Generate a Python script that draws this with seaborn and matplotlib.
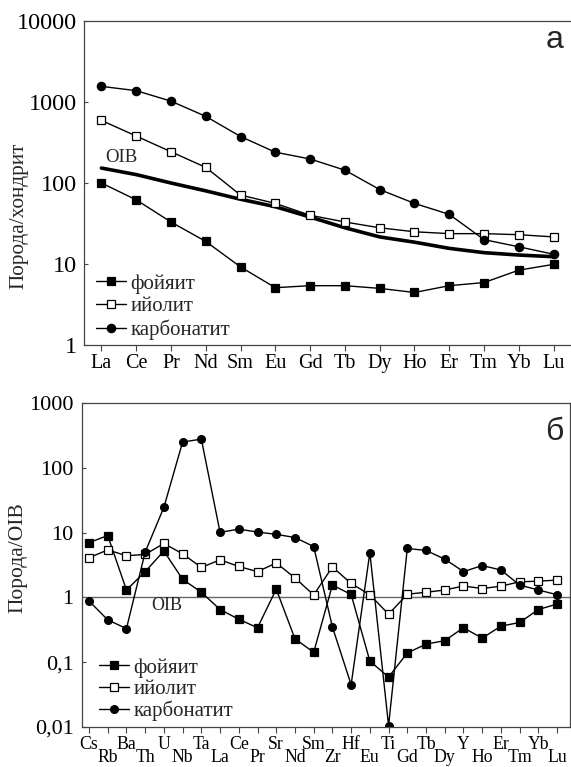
import numpy as np
import pandas as pd
import matplotlib
matplotlib.use("Agg")
import matplotlib.pyplot as plt
import seaborn as sns
from matplotlib.lines import Line2D
from matplotlib.ticker import FixedLocator, NullLocator

# ---------------- data: panel а (chondrite-normalised REE) ----------------
ree = ["La", "Ce", "Pr", "Nd", "Sm", "Eu", "Gd", "Tb", "Dy", "Ho", "Er", "Tm", "Yb", "Lu"]
foyaite_ree = [100, 62, 33, 19, 9.2, 5.1, 5.4, 5.4, 5.0, 4.45, 5.4, 5.9, 8.4, 9.9]
ijolite_ree = [593, 380, 243, 156, 71, 56, 40, 33, 28, 25, 23.7, 23.7, 23, 21.6]
carbonatite_ree = [1560, 1380, 1025, 665, 375, 240, 198, 144, 83, 56, 41, 20, 16.3, 13.2]
oib_ree = [153, 127, 100, 80, 63, 51, 38, 28, 21.6, 18.6, 15.6, 13.8, 12.9, 12.3]

# ---------------- data: panel б (OIB-normalised spidergram) ----------------
elements = ["Cs", "Rb", "Ba", "Th", "U", "Nb", "Ta", "La", "Ce", "Pr", "Sr", "Nd", "Sm",
            "Zr", "Hf", "Eu", "Ti", "Gd", "Tb", "Dy", "Y", "Ho", "Er", "Tm", "Yb", "Lu"]
foyaite_oib = [7.0, 9.0, 1.3, 2.5, 5.2, 1.9, 1.2, 0.65, 0.46, 0.34, 1.34, 0.23, 0.142,
               1.55, 1.11, 0.104, 0.059, 0.139, 0.19, 0.215, 0.34, 0.235, 0.36, 0.41, 0.65, 0.79]
ijolite_oib = [4.1, 5.4, 4.4, 4.6, 6.8, 4.7, 2.9, 3.8, 3.0, 2.5, 3.4, 2.0, 1.09,
               2.95, 1.64, 1.1, 0.55, 1.12, 1.2, 1.3, 1.5, 1.37, 1.49, 1.74, 1.78, 1.85]
carbonatite_oib = [0.88, 0.45, 0.33, 5.0, 24.6, 250, 277, 10.1, 11.3, 10.2, 9.4, 8.4, 6.1,
                   0.35, 0.045, 4.9, 0.0105, 5.7, 5.3, 3.9, 2.5, 3.1, 2.65, 1.55, 1.3, 1.1]

labels = ["фойяит", "ийолит", "карбонатит"]
top_yticks = [1, 10, 100, 1000, 10000]
top_yticklabels = ["1", "10", "100", "1000", "10000"]
bot_yticks = [0.01, 0.1, 1, 10, 100, 1000]
bot_yticklabels = ["0,01", "0,1", "1", "10", "100", "1000"]

# ---------------- style ----------------
sns.set_style("ticks")
plt.rcParams["font.family"] = ["Liberation Serif", "DejaVu Serif"]
plt.rcParams["axes.edgecolor"] = "#444444"
plt.rcParams["axes.linewidth"] = 0.9

W, H = 571, 767
fig = plt.figure(figsize=(W / 100, H / 100), dpi=100)
ax1 = fig.add_axes([84 / W, 1 - 345 / H, (571 - 84) / W, (345 - 21) / H])
ax2 = fig.add_axes([82 / W, 1 - 727 / H, (570 - 82) / W, (727 - 403) / H])

styles = [
    dict(marker="s", markerfacecolor="black"),
    dict(marker="s", markerfacecolor="white"),
    dict(marker="o", markerfacecolor="black"),
]


def series(ax, yvals, st, ms):
    x = np.arange(len(yvals))
    df = pd.DataFrame({"x": x, "y": yvals})
    sns.lineplot(data=df, x="x", y="y", ax=ax, color="black", linewidth=1.0,
                 markersize=ms, markeredgecolor="black", markeredgewidth=0.9,
                 errorbar=None, legend=False, **st)


# ---------------- panel а ----------------
ax1.set_yscale("log")
df_oib = pd.DataFrame({"x": np.arange(len(ree)), "y": oib_ree})
sns.lineplot(data=df_oib, x="x", y="y", ax=ax1, color="black", linewidth=2.6,
             errorbar=None, legend=False)
for vals, st in zip([foyaite_ree, ijolite_ree, carbonatite_ree], styles):
    series(ax1, vals, st, 6.0)

ax1.set_xlim(-0.5, 13.5)
ax1.set_ylim(1, 10000)
ax1.xaxis.set_major_locator(FixedLocator(np.arange(len(ree))))
ax1.set_xticklabels(ree, fontsize=14.5)
ax1.yaxis.set_major_locator(FixedLocator(top_yticks))
ax1.yaxis.set_minor_locator(NullLocator())
ax1.set_yticklabels(top_yticklabels, fontsize=17.5)
ax1.tick_params(axis="x", direction="out", length=4, width=0.8, pad=2.5, colors="#444444",
                labelcolor="black")
ax1.tick_params(axis="y", direction="in", length=3, width=0.8, pad=5, colors="#444444",
                labelcolor="black")
ax1.spines["right"].set_visible(False)
ax1.set_xlabel("")
ax1.set_ylabel("Порода/хондрит", fontsize=15.3)
ax1.yaxis.set_label_coords(-0.115, 0.398)
ax1.text(0.11, 205, "OIB", fontsize=13.5, ha="left", va="center")
ax1.text(0.984, 0.941, "а", transform=ax1.transAxes, fontsize=23,
         family=["Liberation Sans", "DejaVu Sans"], ha="right", va="center")

# ---------------- panel б ----------------
ax2.set_yscale("log")
ax2.axhline(1, color="#666666", linewidth=1.0, zorder=1)
for vals, st in zip([foyaite_oib, ijolite_oib, carbonatite_oib], styles):
    series(ax2, vals, st, 5.6)

ax2.set_xlim(-0.374, 25.69)
ax2.set_ylim(0.01, 1000)
ax2.xaxis.set_major_locator(FixedLocator(np.arange(len(elements))))
ax2.set_xticklabels(elements, fontsize=12.8)
ax2.yaxis.set_major_locator(FixedLocator(bot_yticks))
ax2.yaxis.set_minor_locator(NullLocator())
ax2.set_yticklabels(bot_yticklabels, fontsize=16)
ax2.tick_params(axis="x", direction="out", length=4, width=0.8, pad=2.5, colors="#444444",
                labelcolor="black")
ax2.tick_params(axis="y", direction="in", length=3, width=0.8, pad=6, colors="#444444",
                labelcolor="black")
for i, t in enumerate(ax2.xaxis.get_major_ticks()):
    if i % 2 == 1:
        t.set_pad(2.5 + 9.2)
ax2.set_xlabel("")
ax2.set_ylabel("Порода/OIB", fontsize=15.5)
ax2.yaxis.set_label_coords(-0.111, 0.522)
ax2.text(3.3, 0.74, "OIB", fontsize=13, ha="left", va="center")
ax2.text(0.986, 0.91, "б", transform=ax2.transAxes, fontsize=23,
         family=["Liberation Sans", "DejaVu Sans"], ha="right", va="center")

# ---------------- legends ----------------
def legend(ax, anchor, ms, spacing):
    handles = [Line2D([], [], color="black", linewidth=1.0, markersize=ms,
                      markeredgecolor="black", markeredgewidth=0.9, **st) for st in styles]
    ax.legend(handles, labels, loc="upper left", bbox_to_anchor=anchor, frameon=False,
              fontsize=15, borderpad=0, borderaxespad=0, handlelength=1.45,
              handletextpad=0.2, labelspacing=spacing)


legend(ax1, (0.025, 0.219), 6.0, 0.15)
legend(ax2, (0.035, 0.213), 5.6, 0.08)

fig.savefig("out.png", dpi=100)
